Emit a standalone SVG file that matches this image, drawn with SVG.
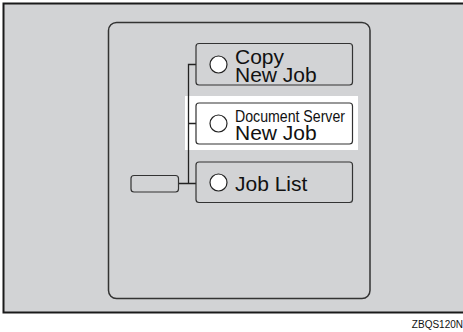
<svg xmlns="http://www.w3.org/2000/svg" width="463" height="332" viewBox="0 0 463 332">
<style>
.btn{fill:#d2d3d5;stroke:#333;stroke-width:1.2}
.led{fill:#fff;stroke:#222;stroke-width:1.2}
.t{font-family:"Liberation Sans",Arial,sans-serif;fill:#111}
.wire{fill:none;stroke:#222;stroke-width:1.3}
</style>
<rect x="0" y="0" width="463" height="332" fill="#fff"/>
<rect id="frame" x="3.5" y="3.5" width="470" height="309" fill="#d2d3d5" stroke="#1a1a1a" stroke-width="2"/>
<rect id="panel" x="108.5" y="22.5" width="261.5" height="276" rx="8" fill="#d2d3d5" stroke="#333" stroke-width="1.5"/>
<rect id="highlight" x="185" y="96" width="173" height="54" fill="#fff"/>
<g id="connectors">
<path class="wire" d="M196 64.5H188.5V183.5M188.5 123.5H196M178.5 183.5H196"/>
</g>
<g id="key">
<rect class="btn" x="131" y="175.5" width="47.5" height="16.5" rx="3"/>
</g>
<g id="copy">
<rect class="btn" x="196" y="43.5" width="156.5" height="41.5" rx="3"/>
<circle class="led" cx="218.5" cy="64.5" r="8.5"/>
<text class="t" x="235" y="63.5" font-size="21">Copy</text>
<text class="t" x="235" y="81.5" font-size="21">New Job</text>
</g>
<g id="docserver">
<rect class="btn" x="196" y="103" width="156.5" height="41" rx="3" fill="#fff" style="fill:#fff"/>
<circle class="led" cx="218.5" cy="123.5" r="8.5"/>
<text class="t" x="235" y="121.5" font-size="16" textLength="110" lengthAdjust="spacingAndGlyphs">Document Server</text>
<text class="t" x="235" y="140" font-size="21">New Job</text>
</g>
<g id="joblist">
<rect class="btn" x="196" y="162" width="156.5" height="40.5" rx="3"/>
<circle class="led" cx="218.5" cy="182.5" r="8.5"/>
<text class="t" x="235" y="190.5" font-size="21">Job List</text>
</g>
<text class="t" x="463" y="328" font-size="10" text-anchor="end">ZBQS120N</text>
</svg>
